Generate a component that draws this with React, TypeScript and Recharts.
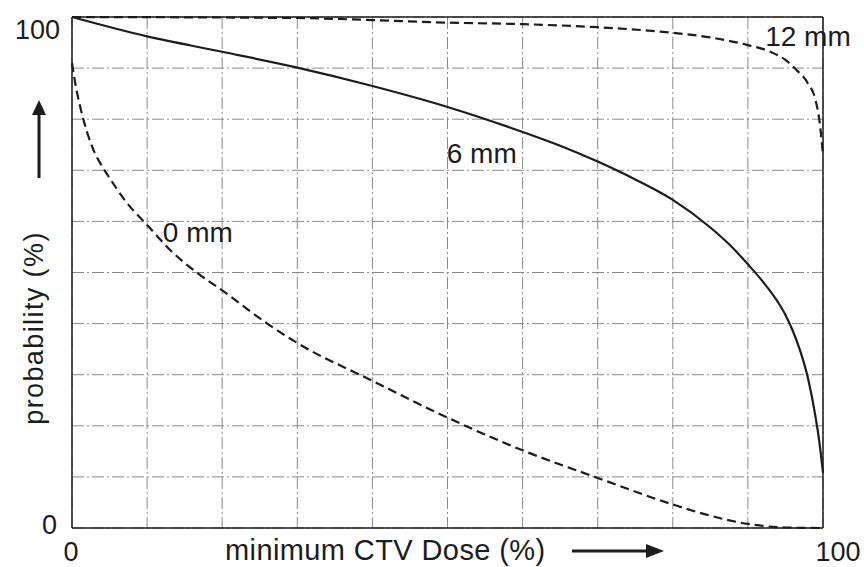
import {
  LineChart,
  Line,
  XAxis,
  YAxis,
  CartesianGrid,
  ReferenceLine,
  ReferenceDot,
} from 'recharts';

// minimum CTV dose (%) vs probability (%), one pair of arrays per margin
const dose0mm = [0, 0.5, 1, 2, 3, 4, 5, 7, 10, 13, 16.6, 20, 26, 30, 40, 50, 60, 70, 80, 85, 90, 95, 100];
const prob0mm = [91, 86.5, 83, 77.5, 73.5, 70.8, 68.5, 64.2, 59.3, 54.5, 50, 46.5, 40, 36.2, 28.8, 21.6, 15.2, 9.8, 4.6, 2.4, 0.8, 0.1, 0];

const dose6mm = [0, 10, 20, 30, 40, 50, 60, 65, 70, 75, 80, 85, 88, 90, 92, 94, 95, 96, 97, 98, 99, 99.5, 100];
const prob6mm = [100, 96.2, 93.2, 90.1, 86.5, 82.4, 77.5, 74.8, 71.7, 68.2, 64.2, 58.8, 54.8, 51.6, 48.2, 44.2, 41.7, 38.5, 34.5, 29.3, 21.8, 17, 10.8];

const dose12mm = [0, 30, 40, 50, 60, 70, 80, 85, 90, 93, 95, 96.5, 98, 99, 99.5, 100];
const prob12mm = [100, 99.8, 99.4, 98.9, 98.6, 98, 96.9, 96, 94.5, 93.2, 91.6, 89.6, 87, 83.8, 80, 73];

const axisTicks = [0, 10, 20, 30, 40, 50, 60, 70, 80, 90, 100];

// curve names, anchored at (dose, probability)
const curveLabels = [
  { name: '0 mm', dose: 12.1, prob: 56 },
  { name: '6 mm', dose: 49.9, prob: 71.4 },
  { name: '12 mm', dose: 92.3, prob: 94.3 },
];

const toPoints = (dose: number[], prob: number[]) =>
  dose.map((d, i) => ({ dose: d, prob: prob[i] }));

const FONT = '"Liberation Sans", Arial, Helvetica, sans-serif';
const INK = '#1c1c1c';

const XTick = (props: any) => {
  const { x, y, payload } = props;
  if (payload.value !== 0 && payload.value !== 100) return null;
  return (
    <text
      x={x + (payload.value === 100 ? 15 : -1)}
      y={y + 25}
      textAnchor='middle'
      fontFamily={FONT}
      fontSize={27}
      fill={INK}
    >
      {payload.value}
    </text>
  );
};

const YTick = (props: any) => {
  const { x, y, payload } = props;
  if (payload.value !== 0 && payload.value !== 100) return null;
  const top = payload.value === 100;
  return (
    <text
      x={x + (top ? -4 : -7)}
      y={y + (top ? 22 : 6)}
      textAnchor='end'
      fontFamily={FONT}
      fontSize={27}
      fill={INK}
    >
      {payload.value}
    </text>
  );
};

const XTitle = () => (
  <g>
    <text x={225} y={560} fontFamily={FONT} fontSize={29} letterSpacing={0.4} fill={INK}>
      minimum CTV Dose (%)
    </text>
    <line x1={572} y1={551} x2={648} y2={551} stroke={INK} strokeWidth={3} />
    <polygon points='646,544 664,551 646,558' fill={INK} />
  </g>
);

const YTitle = () => (
  <g>
    <text
      x={43}
      y={328}
      transform='rotate(-90 43 328)'
      textAnchor='middle'
      fontFamily={FONT}
      fontSize={27}
      letterSpacing={1.4}
      fill={INK}
    >
      probability (%)
    </text>
    <line x1={39} y1={178} x2={39} y2={112} stroke={INK} strokeWidth={3} />
    <polygon points='32,115 39,100 46,115' fill={INK} />
  </g>
);

export default function App() {
  return (
    <div style={{ position: 'absolute', left: 0, top: 0, background: '#fff' }}>
      <LineChart
        width={864}
        height={567}
        margin={{ top: 17, right: 41, bottom: 0, left: 0 }}
      >
        <CartesianGrid stroke='#8a8a8a' strokeWidth={1} strokeDasharray='12 3 2 3' />
        <XAxis
          type='number'
          dataKey='dose'
          domain={[0, 100]}
          ticks={axisTicks}
          height={39}
          tickLine={false}
          axisLine={{ stroke: INK, strokeWidth: 1.5 }}
          tick={XTick}
          interval={0}
          label={{ content: XTitle }}
        />
        <YAxis
          type='number'
          domain={[0, 100]}
          ticks={axisTicks}
          width={72}
          tickLine={false}
          axisLine={{ stroke: INK, strokeWidth: 1.5 }}
          tick={YTick}
          interval={0}
          label={{ content: YTitle }}
        />
        <ReferenceLine x={100} stroke={INK} strokeWidth={1.5} />
        <ReferenceLine y={100} stroke={INK} strokeWidth={1.5} />
        <Line
          data={toPoints(dose0mm, prob0mm)}
          dataKey='prob'
          type='monotone'
          stroke={INK}
          strokeWidth={2.2}
          strokeDasharray='9 5'
          dot={false}
          isAnimationActive={false}
        />
        <Line
          data={toPoints(dose6mm, prob6mm)}
          dataKey='prob'
          type='monotone'
          stroke={INK}
          strokeWidth={2.2}
          dot={false}
          isAnimationActive={false}
        />
        <Line
          data={toPoints(dose12mm, prob12mm)}
          dataKey='prob'
          type='monotone'
          stroke={INK}
          strokeWidth={2.2}
          strokeDasharray='9 5'
          dot={false}
          isAnimationActive={false}
        />
        {curveLabels.map((c) => (
          <ReferenceDot
            key={c.name}
            x={c.dose}
            y={c.prob}
            r={0}
            shape={(p: any) => (
              <text x={p.cx} y={p.cy} fontFamily={FONT} fontSize={28} fill={INK}>
                {c.name}
              </text>
            )}
          />
        ))}
      </LineChart>
    </div>
  );
}
